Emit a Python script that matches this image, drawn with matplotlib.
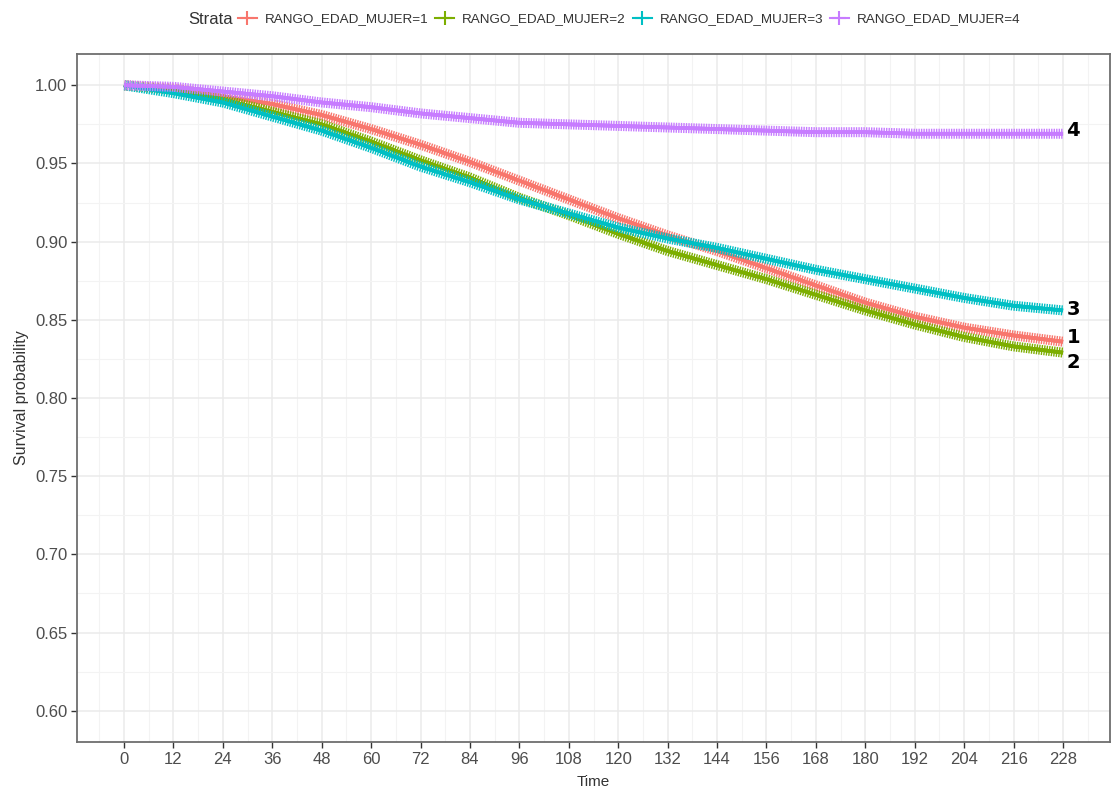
# Kaplan-Meier style survival curves by RANGO_EDAD_MUJER strata
# -----------------------------------------------------------------------------------------------------------------
import matplotlib
matplotlib.use('Agg')
import matplotlib.pyplot as plt
import matplotlib.patheffects as pe
from matplotlib.lines import Line2D
from matplotlib.ticker import MultipleLocator, FormatStrFormatter

plt.rcParams['font.family'] = ['Liberation Sans', 'DejaVu Sans']

# --- Data --------------------------------------------------------------------------------------------------------
time_months = [0, 12, 24, 36, 48, 60, 72, 84, 96, 108, 120, 132, 144, 156, 168, 180, 192, 204, 216, 228]

surv_1 = [1.000, 0.998, 0.993, 0.988, 0.981, 0.972, 0.962, 0.951, 0.939, 0.927,
          0.915, 0.904, 0.894, 0.883, 0.872, 0.861, 0.852, 0.845, 0.840, 0.836]
surv_2 = [1.000, 0.997, 0.991, 0.983, 0.975, 0.964, 0.952, 0.941, 0.928, 0.917,
          0.905, 0.894, 0.885, 0.876, 0.866, 0.856, 0.847, 0.839, 0.833, 0.829]
surv_3 = [1.000, 0.995, 0.989, 0.980, 0.971, 0.960, 0.948, 0.938, 0.927, 0.918,
          0.909, 0.902, 0.896, 0.889, 0.882, 0.876, 0.870, 0.864, 0.859, 0.856]
surv_4 = [1.000, 0.999, 0.996, 0.993, 0.989, 0.986, 0.982, 0.979, 0.976, 0.975,
          0.974, 0.973, 0.972, 0.971, 0.970, 0.970, 0.969, 0.969, 0.969, 0.969]

strata_labels = ['RANGO_EDAD_MUJER=1', 'RANGO_EDAD_MUJER=2', 'RANGO_EDAD_MUJER=3', 'RANGO_EDAD_MUJER=4']
end_labels = ['1', '2', '3', '4']
colors = ['#F8766D', '#7CAE00', '#00BFC4', '#C77CFF']

# --- Figure ------------------------------------------------------------------------------------------------------
fig = plt.figure(figsize=(11.13, 7.9), dpi=100)
ax = fig.add_axes([77 / 1113, (790 - 742) / 790, (1110 - 77) / 1113, (742 - 54) / 790])

# grid (ggplot theme_bw look)
ax.set_axisbelow(True)
ax.xaxis.set_major_locator(MultipleLocator(12))
ax.xaxis.set_minor_locator(MultipleLocator(6))
ax.yaxis.set_major_locator(MultipleLocator(0.05))
ax.yaxis.set_minor_locator(MultipleLocator(0.025))
ax.grid(which='major', color='#EBEBEB', lw=1.1)
ax.grid(which='minor', color='#F3F3F3', lw=0.8)

# censor-mark look: ticks across the line on both sides
hairy = [pe.withTickedStroke(angle=90, spacing=1.8, length=2.0, linewidth=1.0),
         pe.withTickedStroke(angle=-90, spacing=1.8, length=2.0, linewidth=1.0),
         pe.Normal()]

all_surv = [surv_1, surv_2, surv_3, surv_4]
for s, c in zip(all_surv, colors):
    ax.plot(time_months, s, color=c, lw=2.6, path_effects=hairy, solid_capstyle='butt')

# end-of-curve labels
label_offsets = {'1': 3, '2': -7, '3': 1, '4': 2}
for s, lab in zip(all_surv, end_labels):
    ax.annotate(lab, xy=(time_months[-1], s[-1]), xytext=(2.5, label_offsets[lab]),
                textcoords='offset points', ha='left', va='center',
                fontsize=14, fontweight='bold', family='DejaVu Sans', color='black')

ax.set_xlim(-11.4, 239.4)
ax.set_ylim(0.58, 1.02)
ax.yaxis.set_major_formatter(FormatStrFormatter('%.2f'))
ax.tick_params(which='major', length=4, width=1, color='#333333', labelsize=12,
               labelcolor='#4D4D4D', pad=3)
ax.tick_params(which='minor', length=0)
for side in ax.spines.values():
    side.set_color('#6E6E6E')
    side.set_linewidth(1.3)

ax.set_xlabel('Time', fontsize=11, color='#333333', labelpad=6)
ax.set_ylabel('Survival probability', fontsize=11.5, color='#333333', labelpad=4)

# --- Legend on top -----------------------------------------------------------------------------------------------
fig.text(188 / 1113, 1 - 19 / 790, 'Strata', fontsize=12, color='#333333', ha='left', va='center')
handles = [Line2D([], [], color=c, lw=1.5, marker='+', markersize=10, markeredgewidth=1.5) for c in colors]
fig.legend(handles, strata_labels, loc='center left', bbox_to_anchor=(238 / 1113, 1 - 19 / 790),
           ncol=4, frameon=False, fontsize=9.7, handlelength=1.4, handletextpad=0.6,
           columnspacing=0.5, borderpad=0, borderaxespad=0, labelcolor='#333333')

plt.savefig('out.png', dpi=100)
